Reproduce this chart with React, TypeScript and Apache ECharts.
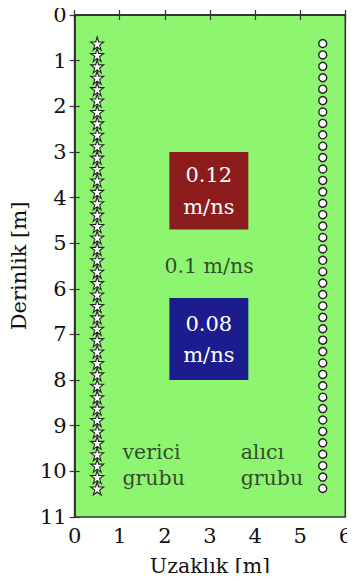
import React, { useEffect, useRef } from "react";
import * as echarts from "echarts";

const xTicks = [0, 1, 2, 3, 4, 5, 6];
const yTicks = [0, 1, 2, 3, 4, 5, 6, 7, 8, 9, 10, 11];

const transmitterX = 0.5;
const receiverX = 5.5;
const transmitterDepths = [
  0.625, 0.875, 1.125, 1.375, 1.625, 1.875, 2.125, 2.375, 2.625, 2.875,
  3.125, 3.375, 3.625, 3.875, 4.125, 4.375, 4.625, 4.875, 5.125, 5.375,
  5.625, 5.875, 6.125, 6.375, 6.625, 6.875, 7.125, 7.375, 7.625, 7.875,
  8.125, 8.375, 8.625, 8.875, 9.125, 9.375, 9.625, 9.875, 10.125, 10.375,
];
const receiverDepths = [
  0.625, 0.875, 1.125, 1.375, 1.625, 1.875, 2.125, 2.375, 2.625, 2.875,
  3.125, 3.375, 3.625, 3.875, 4.125, 4.375, 4.625, 4.875, 5.125, 5.375,
  5.625, 5.875, 6.125, 6.375, 6.625, 6.875, 7.125, 7.375, 7.625, 7.875,
  8.125, 8.375, 8.625, 8.875, 9.125, 9.375, 9.625, 9.875, 10.125, 10.375,
];

// anomaly boxes: [xStart, xEnd, yStart, yEnd]
const fastBox = [2.1, 3.85, 3.0, 4.7];
const slowBox = [2.1, 3.85, 6.2, 8.0];
const fastLabel = "0.12\nm/ns";
const slowLabel = "0.08\nm/ns";
const backgroundLabel = "0.1 m/ns";
const backgroundLabelPos = [2.98, 5.5];
const transmitterLabel = "verici\ngrubu";
const transmitterLabelPos = [1.06, 9.87];
const receiverLabel = "alıcı\ngrubu";
const receiverLabelPos = [3.68, 9.87];

const FONT = "DejaVu Serif";
const STAR =
  "path://M50,0 L61,35 L98,35 L68,57 L79,91 L50,70 L21,91 L32,57 L2,35 L39,35 Z";

export default function App() {
  const ref = useRef<HTMLDivElement>(null);
  useEffect(() => {
    if (!ref.current) return;
    const chart = echarts.init(ref.current, undefined, { renderer: "svg" });
    const axisLine = { show: true, lineStyle: { color: "#333", width: 1.6 } };
    const tick = { show: true, inside: true, length: 5, lineStyle: { color: "#333", width: 1.2 } };
    chart.setOption({
      animation: false,
      grid: {
        left: 71,
        right: 8,
        top: 15,
        bottom: 63,
        show: true,
        backgroundColor: "#8ef570",
        borderColor: "#333",
        borderWidth: 1.6,
      },
      xAxis: [
        {
          type: "value",
          position: "bottom",
          min: xTicks[0],
          max: xTicks[xTicks.length - 1],
          interval: 1,
          splitLine: { show: false },
          axisLine,
          axisTick: tick,
          axisLabel: { color: "#111", fontFamily: FONT, fontSize: 21, margin: 8 },
          name: "Uzaklık [m]",
          nameLocation: "middle",
          nameGap: 38,
          nameTextStyle: { color: "#111", fontFamily: FONT, fontSize: 20.5 },
        },
        {
          type: "value",
          position: "top",
          min: xTicks[0],
          max: xTicks[xTicks.length - 1],
          interval: 1,
          splitLine: { show: false },
          axisLine,
          axisTick: tick,
          axisLabel: { show: false },
        },
      ],
      yAxis: [
        {
          type: "value",
          position: "left",
          inverse: true,
          min: yTicks[0],
          max: yTicks[yTicks.length - 1],
          interval: 1,
          splitLine: { show: false },
          axisLine,
          axisTick: tick,
          axisLabel: { color: "#111", fontFamily: FONT, fontSize: 21, margin: 8 },
          name: "Derinlik [m]",
          nameLocation: "middle",
          nameGap: 34,
          nameRotate: 90,
          nameTextStyle: { color: "#111", fontFamily: FONT, fontSize: 21 },
        },
        {
          type: "value",
          position: "right",
          inverse: true,
          min: yTicks[0],
          max: yTicks[yTicks.length - 1],
          interval: 1,
          splitLine: { show: false },
          axisLine,
          axisTick: tick,
          axisLabel: { show: false },
        },
      ],
      series: [
        {
          type: "scatter",
          xAxisIndex: 0,
          yAxisIndex: 0,
          silent: true,
          data: [],
          markArea: {
            silent: true,
            data: [
              [
                {
                  xAxis: fastBox[0],
                  yAxis: fastBox[2],
                  itemStyle: { color: "#8c1c1c", opacity: 1 },
                  label: { lineHeight: 32 },
                  name: fastLabel,
                },
                { xAxis: fastBox[1], yAxis: fastBox[3] },
              ],
              [
                {
                  xAxis: slowBox[0],
                  yAxis: slowBox[2],
                  itemStyle: { color: "#1c1c8e", opacity: 1 },
                  label: { lineHeight: 31 },
                  name: slowLabel,
                },
                { xAxis: slowBox[1], yAxis: slowBox[3] },
              ],
            ],
            label: {
              show: true,
              position: "inside",
              color: "#ffffff",
              fontFamily: FONT,
              fontSize: 21,
              align: "center",
              verticalAlign: "middle",
            },
          },
        },
        {
          type: "scatter",
          symbol: STAR,
          symbolSize: 13,
          itemStyle: { color: "#ffffff", borderColor: "#222", borderWidth: 1.1, opacity: 1 },
          data: transmitterDepths.map((d) => [transmitterX, d]),
          z: 5,
        },
        {
          type: "scatter",
          symbol: "circle",
          symbolSize: 8,
          itemStyle: { color: "#ffffff", borderColor: "#222", borderWidth: 1.4, opacity: 1 },
          data: receiverDepths.map((d) => [receiverX, d]),
          z: 5,
        },
        {
          type: "scatter",
          symbolSize: 0,
          silent: true,
          data: [
            { value: backgroundLabelPos, label: { formatter: backgroundLabel, align: "center" } },
            { value: transmitterLabelPos, label: { formatter: transmitterLabel, align: "left" } },
            { value: receiverLabelPos, label: { formatter: receiverLabel, align: "left" } },
          ],
          label: {
            show: true,
            position: [0, 0],
            verticalAlign: "middle",
            color: "#1a1a1a",
            fontFamily: FONT,
            fontSize: 20.5,
            lineHeight: 26,
          },
        },
      ],
    });
    return () => chart.dispose();
  }, []);
  return <div ref={ref} style={{ width: 355, height: 581, margin: -8 }} />;
}
